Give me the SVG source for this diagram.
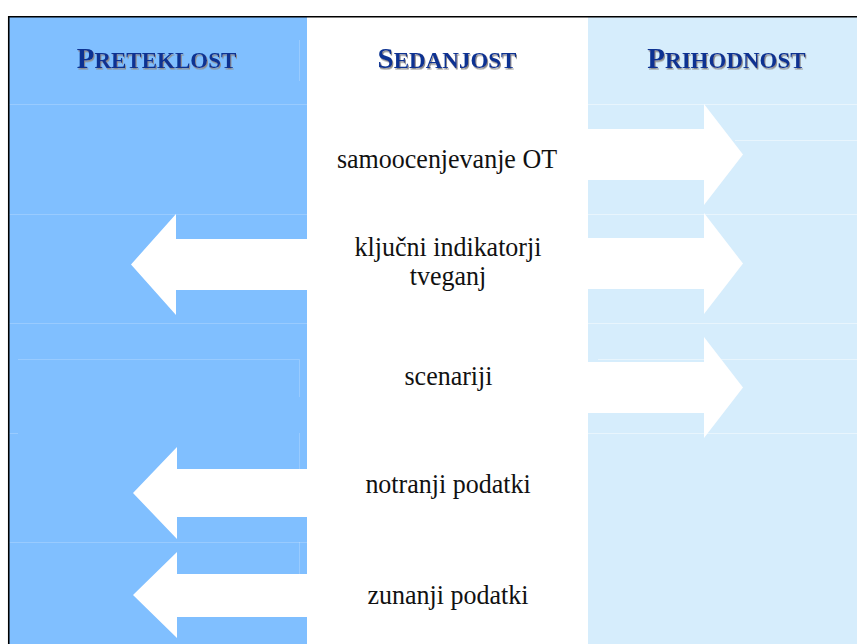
<svg xmlns="http://www.w3.org/2000/svg" width="857" height="644" viewBox="0 0 857 644">
  <defs>
    <filter id="shadow" x="-5%" y="-20%" width="110%" height="150%">
      <feDropShadow dx="1" dy="1.5" stdDeviation="0.4" flood-color="#8c8c8c" flood-opacity="1"/>
    </filter>
  </defs>
  <style>
    .past { fill: #80bfff; }
    .future { fill: #d6edfc; }
    .grid-past { stroke: #ffffff; stroke-opacity: 0.2; stroke-width: 1; fill: none; }
    .grid-future { stroke: #ffffff; stroke-opacity: 0.45; stroke-width: 1; fill: none; }
    .arrow { fill: #ffffff; }
    .title { font-family: "Liberation Serif", "Times New Roman", serif; font-weight: bold; fill: #0a3392; text-anchor: middle; filter: url(#shadow); }
    .big { font-size: 29px; }
    .small { font-size: 23px; }
    .label { font-family: "Liberation Serif", "Times New Roman", serif; font-size: 26px; fill: #111111; text-anchor: middle; }
  </style>

  <!-- page background -->
  <rect x="0" y="0" width="857" height="644" fill="#ffffff"/>

  <!-- time columns -->
  <g id="columns">
    <rect class="past" x="9" y="17" width="298" height="627"/>
    <rect class="future" x="588" y="17" width="269" height="627"/>
  </g>

  <!-- faint table cell edges -->
  <g id="cell-lines">
    <path class="grid-past" d="M9,104.5H307 M299.5,40V81 M9,214.5H307 M9,323.5H307 M18,359.5H299.5V397 M9,433.5H18 M299.5,433V469 M9,542.5H307 M299.5,542V574"/>
    <path class="grid-future" d="M588,104.5H857 M735,140.5H857 M588,214.5H857 M588,323.5H857 M598,359.5H857 M588,433.5H857"/>
  </g>

  <!-- outer frame -->
  <path d="M8.75,644V16.75H857" fill="none" stroke="#000000" stroke-width="1.6"/>

  <!-- block arrows -->
  <g id="connectors">
    <polygon class="arrow" points="588,129 704,129 704,104 743,154.5 704,205 704,180 588,180"/>
    <polygon class="arrow" points="588,238 704,238 704,213 743,263.5 704,314 704,289 588,289"/>
    <polygon class="arrow" points="588,362 704,362 704,337 743,387.5 704,438 704,413 588,413"/>
    <polygon class="arrow" points="307,239 176,239 176,214 131,264.5 176,315 176,290 307,290"/>
    <polygon class="arrow" points="307,469 177,469 177,447 133,493 177,539 177,517 307,517"/>
    <polygon class="arrow" points="307,574 177,574 177,552 133,595 177,638 177,617 307,617"/>
  </g>

  <!-- column headings -->
  <g id="heading-past">
    <text class="title" x="156.5" y="67.5"><tspan class="big">P</tspan><tspan class="small">RETEKLOST</tspan></text>
  </g>
  <g id="heading-present">
    <text class="title" x="447" y="67.5"><tspan class="big">S</tspan><tspan class="small">EDANJOST</tspan></text>
  </g>
  <g id="heading-future">
    <text class="title" x="726.5" y="67.5"><tspan class="big">P</tspan><tspan class="small">RIHODNOST</tspan></text>
  </g>

  <!-- items (slightly tall serif lettering) -->
  <g id="item-self-assessment">
    <text class="label" transform="translate(447,168) scale(1,1.07)">samoocenjevanje OT</text>
  </g>
  <g id="item-key-risk-indicators">
    <text class="label" transform="translate(448,256) scale(1,1.07)">ključni indikatorji</text>
    <text class="label" transform="translate(448,285) scale(1,1.07)">tveganj</text>
  </g>
  <g id="item-scenarios">
    <text class="label" transform="translate(448.5,385) scale(1,1.07)">scenariji</text>
  </g>
  <g id="item-internal-data">
    <text class="label" transform="translate(448,493) scale(1,1.07)">notranji podatki</text>
  </g>
  <g id="item-external-data">
    <text class="label" transform="translate(448,604) scale(1,1.07)">zunanji podatki</text>
  </g>
</svg>
